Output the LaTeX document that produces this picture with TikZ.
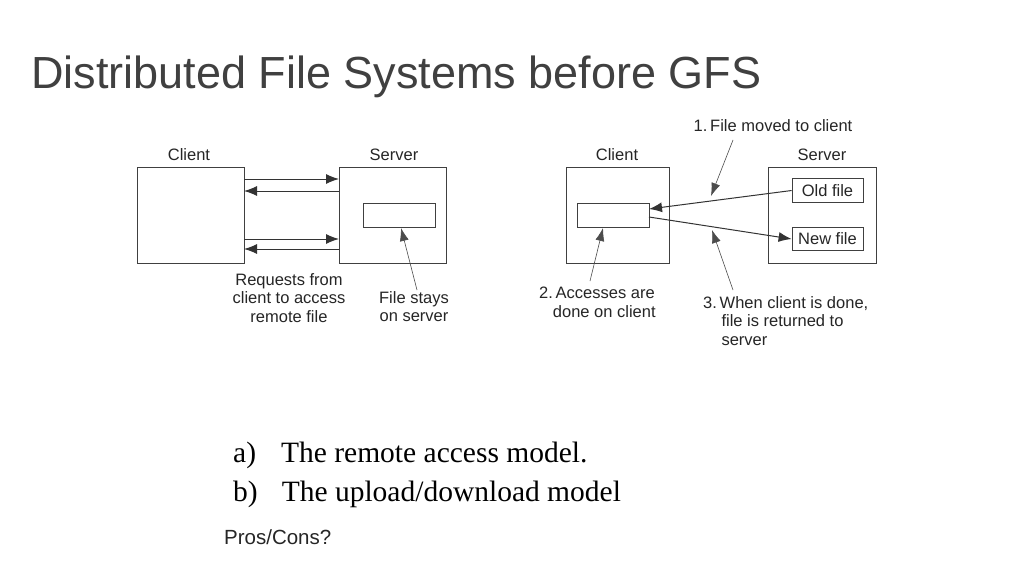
\documentclass[tikz,border=0pt]{standalone}
\usetikzlibrary{arrows.meta}
\usepackage{fontspec}
\setmainfont{Liberation Sans}
\newfontfamily\tms{Liberation Serif}
\begin{document}
\begin{tikzpicture}[x=1pt,y=-1pt,
  box/.style={draw=black!75,line width=0.8pt},
  lab/.style={font=\fontsize{16.5}{18.8}\selectfont,text=black!85,inner sep=0pt,align=center},
  arr/.style={draw=black!80,line width=1pt,-{Latex[length=13pt,width=10pt]}},
  thin/.style={draw=black!70,line width=0.6pt,-{Latex[length=13pt,width=9pt]}}]
\useasboundingbox[fill=white] (0,0) rectangle (1024,576);
\node[anchor=base west,inner sep=0pt,text=black!75,font=\fontsize{45}{50}\selectfont] (title) at (31,88) {Distributed File Systems before GFS};
% left diagram
\draw[box] (137,167) rectangle (244,263);
\draw[box] (339,167) rectangle (446,263);
\draw[box] (363,203) rectangle (435,227);
\coordinate (c1) at (244,179); \coordinate (s1) at (339,179);
\coordinate (c2) at (244,191); \coordinate (s2) at (339,191);
\coordinate (c3) at (244,239); \coordinate (s3) at (339,239);
\coordinate (c4) at (244,249); \coordinate (s4) at (339,249);
\draw[arr] (c1) -- (s1); \draw[arr] (s2) -- (c2);
\draw[arr] (c3) -- (s3); \draw[arr] (s4) -- (c4);
\node[lab] (lc) at (189,155) {Client};
\node[lab] (ls) at (394,155) {Server};
\node[lab,anchor=north] (req) at (289,273) {Requests from\\client to access\\remote file};
\node[lab,anchor=north] (stay) at (414,291) {File stays\\on server};
\coordinate (st) at (417,290); \coordinate (sr) at (401,228);
\draw[thin] (st) -- (sr);
% right diagram
\draw[box] (566,167) rectangle (669,263);
\draw[box] (577,203) rectangle (649,227);
\draw[box] (768,167) rectangle (876,263);
\node[box,lab,minimum width=71pt,minimum height=24pt] (old) at (827.5,190.5) {Old file};
\node[box,lab,minimum width=71pt,minimum height=23pt] (new) at (827.5,239) {New file};
\node[lab] (rc) at (617,155) {Client};
\node[lab] (rs) at (822,155) {Server};
\coordinate (cr1) at (649,209); \coordinate (cr2) at (649,217);
\draw[arr] (old.west) -- (cr1);
\draw[arr] (cr2) -- (new.west);
\node[lab,anchor=north] (l1) at (773,119) {1.\,File moved to client};
\node[lab,anchor=north west,align=left] (l2) at (539,287) {2.\,Accesses are\\\ \ \ done on client};
\node[lab,anchor=north west,align=left] (l3) at (703,296) {3.\,When client is done,\\\ \ \ \ file is returned to\\\ \ \ \ server};
\coordinate (a1) at (733,140); \coordinate (b1) at (711,196);
\coordinate (a2) at (590,281); \coordinate (b2) at (603,228);
\coordinate (a3) at (733,290); \coordinate (b3) at (712,230);
\draw[thin] (a1) -- (b1); \draw[thin] (a2) -- (b2); \draw[thin] (a3) -- (b3);
% bottom text
\node[anchor=base west,inner sep=0pt,font=\tms\fontsize{29.5}{32}\selectfont] (a) at (233,462) {a)\hspace{25pt}The remote access model.};
\node[anchor=base west,inner sep=0pt,font=\tms\fontsize{29.5}{32}\selectfont] (b) at (233,501) {b)\hspace{24pt}The upload/download model};
\node[anchor=base west,inner sep=0pt,font=\fontsize{20.5}{24}\selectfont,text=black!85] (pc) at (224,544) {Pros/Cons?};
\end{tikzpicture}
\end{document}
